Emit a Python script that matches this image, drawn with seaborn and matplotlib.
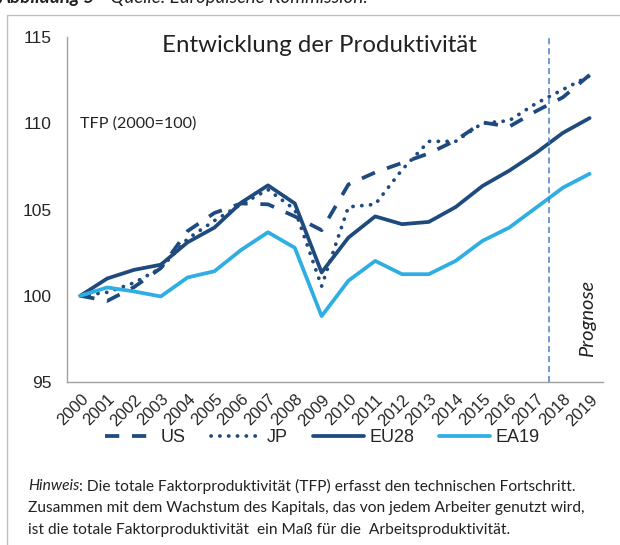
import matplotlib
matplotlib.use("Agg")
import matplotlib.pyplot as plt
import matplotlib.patches as mpatches
from matplotlib.lines import Line2D
import seaborn as sns
import pandas as pd
import numpy as np

years = [str(y) for y in range(2000, 2020)]
us = [100, 99.7, 100.5, 101.6, 103.75, 104.8, 105.35, 105.3, 104.6, 103.8,
      106.45, 107.15, 107.7, 108.25, 109.0, 110.05, 109.8, 110.7, 111.5, 112.8]
jp = [100, 100.2, 100.75, 101.6, 103.3, 104.35, 105.3, 106.15, 105.0, 100.55,
      105.15, 105.3, 107.3, 108.95, 108.95, 110.0, 110.15, 111.15, 111.95, 112.75]
eu28 = [100, 101.0, 101.5, 101.8, 103.1, 103.95, 105.4, 106.4, 105.35, 101.35,
        103.37, 104.6, 104.15, 104.28, 105.14, 106.36, 107.25, 108.28, 109.44, 110.3]
ea19 = [100, 100.48, 100.25, 99.96, 101.06, 101.42, 102.66, 103.68, 102.78, 98.82,
        100.87, 102.02, 101.25, 101.25, 102.02, 103.18, 103.95, 105.1, 106.26, 107.07]
series_names = ["US", "JP", "EU28", "EA19"]
y_ticks = [95, 100, 105, 110, 115]

title = "Entwicklung der Produktivität"
unit_label = "TFP (2000=100)"
forecast_label = "Prognose"
forecast_start = 2017.5

dark = "#1f4a7e"
light = "#2eaee3"
vcol = "#4a7fc1"
sans = "Liberation Sans"
cal = "Lato"
tc = "#222222"

df = pd.DataFrame({
    "Jahr": years * 4,
    "Wert": us + jp + eu28 + ea19,
    "Serie": sum([[n] * len(years) for n in series_names], []),
})
df["x"] = df["Jahr"].astype(int) - 2000

sns.set_style("white")
W, H = 620, 545
fig = plt.figure(figsize=(W / 100, H / 100), dpi=100)

def fx(px):
    return px / W

def fy(py):
    return 1 - py / H

ax = fig.add_axes([fx(67), fy(382), fx(603) - fx(67), fy(37) - fy(382)])

palette = {"US": dark, "JP": dark, "EU28": dark, "EA19": light}
dashes = {"US": (3.8, 3.4), "JP": (0.05, 2.3), "EU28": "", "EA19": ""}
sns.lineplot(data=df, x="x", y="Wert", hue="Serie", style="Serie",
             palette=palette, dashes=dashes, hue_order=series_names,
             style_order=series_names, linewidth=2.7, ax=ax, legend=False)
for line, name in zip(ax.get_lines(), series_names):
    if name == "JP":
        line.set_dash_capstyle("round")
    else:
        line.set_dash_capstyle("butt")
    line.set_solid_capstyle("round")

ax.set_xlim(-0.5, len(years) - 0.5)
ax.set_ylim(95, 115)
ax.set_yticks(y_ticks)
ax.set_yticklabels([str(v) for v in y_ticks], fontfamily=sans, fontsize=12.5)
ax.set_xticks(range(len(years)))
ax.set_xticklabels(years, rotation=45, ha="right", rotation_mode="anchor",
                   fontfamily=sans, fontsize=12)
ax.set_xticks(np.arange(-0.5, len(years)), minor=True)
ax.tick_params(axis="x", which="major", length=0, pad=7)
ax.tick_params(axis="x", which="minor", length=5, color="#a0a0a0", width=1, direction="out")
ax.tick_params(axis="y", length=5, color="#a0a0a0", width=1, direction="out", pad=6)
ax.set_xlabel("")
ax.set_ylabel("")
for s in ["top", "right"]:
    ax.spines[s].set_visible(False)
for s in ["left", "bottom"]:
    ax.spines[s].set_color("#a0a0a0")
    ax.spines[s].set_linewidth(1)

ax.axvline(forecast_start - 2000, color=vcol, lw=1.1, ls=(0, (4, 2.5)))

fig.text(fx(319), fy(45), title, ha="center", va="center",
         fontfamily=cal, fontsize=17.3, color=tc)
fig.text(fx(80), fy(124), unit_label, ha="left", va="center",
         fontfamily=cal, fontsize=11.6, color=tc)
fig.text(fx(588), fy(318), forecast_label, ha="center", va="center", rotation=90,
         fontfamily=cal, fontsize=14.5, style="italic", color=tc)

handles = [
    Line2D([], [], color=dark, lw=2.7, ls=(0, (3.8, 3.4))),
    Line2D([], [], color=dark, lw=2.7, ls=(0, (0.05, 2.3)), dash_capstyle="round"),
    Line2D([], [], color=dark, lw=2.7),
    Line2D([], [], color=light, lw=2.7),
]
fig.legend(handles, series_names, loc="center", bbox_to_anchor=(fx(322), fy(438)),
           ncol=4, frameon=False, prop={"family": sans, "size": 13},
           handlelength=2.8, columnspacing=1.4, handletextpad=0.3)

fs_note = 11.2
notes = [
    "Die totale Faktorproduktivität (TFP) erfasst den technischen Fortschritt.",
    "Zusammen mit dem Wachstum des Kapitals, das von jedem Arbeiter genutzt wird,",
    "ist die totale Faktorproduktivität  ein Maß für die  Arbeitsproduktivität.",
]
t = fig.text(fx(28), fy(486), "Hinweis", ha="left", va="center", fontfamily=cal,
             fontsize=fs_note, style="italic", color=tc)
fig.canvas.draw()
bb = t.get_window_extent()
fig.text(bb.x1 / W, fy(486), ": " + notes[0], ha="left", va="center", fontfamily=cal,
         fontsize=fs_note, color=tc)
fig.text(fx(28), fy(508), notes[1], ha="left", va="center", fontfamily=cal,
         fontsize=fs_note, color=tc)
fig.text(fx(28), fy(530), notes[2], ha="left", va="center", fontfamily=cal,
         fontsize=fs_note, color=tc)

# header (cut off at top, as in the reference)
h1 = fig.text(fx(-1), fy(3), "Abbildung 5", ha="left", va="baseline", fontfamily=cal,
              fontsize=13.5, style="italic", weight="bold", color=tc)
fig.canvas.draw()
bb = h1.get_window_extent()
fig.text(bb.x1 / W, fy(3), " - Quelle: Europäische Kommission.", ha="left", va="baseline",
         fontfamily=cal, fontsize=13.5, style="italic", color=tc)

rect = mpatches.Rectangle((fx(7), fy(560)), fx(640) - fx(7), fy(15) - fy(560),
                          transform=fig.transFigure, fill=False, edgecolor="#c0c0c0",
                          lw=1, clip_on=False)
fig.patches.append(rect)

fig.savefig("out.png", dpi=100)
